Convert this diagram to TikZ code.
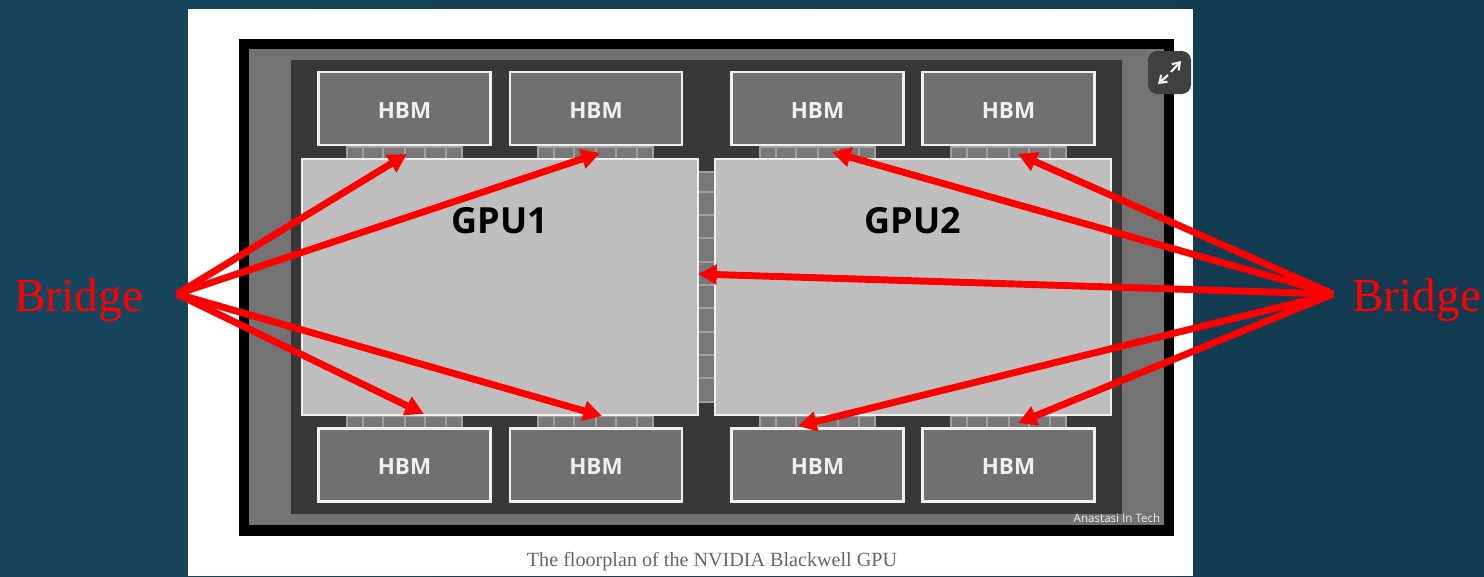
\documentclass[tikz,border=0pt]{standalone}
\usepackage{fontspec}
\setmainfont{Liberation Serif}
\newfontfamily\opensans{Open Sans}
\usetikzlibrary{arrows.meta}
\definecolor{bgL}{HTML}{16465F}
\definecolor{bgR}{HTML}{123A50}
\definecolor{frameK}{HTML}{000000}
\definecolor{pkg}{HTML}{737373}
\definecolor{dark}{HTML}{383838}
\definecolor{hbmfill}{HTML}{707070}
\definecolor{gpufill}{HTML}{BEBEBE}
\definecolor{edgeW}{HTML}{F0F0F0}
\definecolor{cellfill}{HTML}{787878}
\definecolor{cellline}{HTML}{A0A0A0}
\definecolor{icon}{HTML}{404040}
\tikzset{
  x=0.75pt,y=-0.75pt,
  hbmbox/.style={draw=edgeW,line width=2.2pt,fill=hbmfill,text=edgeW,inner sep=0pt,
     font=\opensans\bfseries\fontsize{16.8}{17}\selectfont},
  gpubox/.style={draw=edgeW,line width=2pt,fill=gpufill},
  gputext/.style={font=\opensans\bfseries\fontsize{27}{27}\selectfont,text=black,inner sep=0pt},
  cell/.style={draw=cellline,line width=0.8pt,fill=cellfill},
  ptr/.style={draw=red,line width=5.2pt,-{Triangle[length=14pt,width=14.5pt]}},
  bridgetext/.style={text=red,font=\fontsize{35.5}{36}\selectfont,inner sep=0pt,anchor=base west},
}
\newcommand{\hbm}[4]{%
  \draw[hbmbox] (#2,#3) rectangle (#2+172,#3+73);
  \node[hbmbox,draw=none,fill=none] (#1) at (#2+86,#3+#4) {HBM};
}
\newcommand{\hbridge}[2]{%
  \foreach \a/\b in {0/16,16/36,36/58,58/78,78/99,99/115}{
    \draw[cell] (#1+\a,#2) rectangle (#1+\b,#2+12);
  }
}
\begin{document}
\begin{tikzpicture}
\useasboundingbox (0,0) rectangle (1484,576);
\shade[left color=bgL,right color=bgR,shading angle=90] (0,0) rectangle (1484,576);
\fill[white] (188,9) rectangle (1193,576);
\fill[frameK] (239,39) rectangle (1174,536);
\fill[pkg] (249,49) rectangle (1164,525);
\fill[dark] (291,60) rectangle (1122,514);
% bridges
\hbridge{347}{147}\hbridge{538}{147}\hbridge{760}{147}\hbridge{951}{147}
\hbridge{347}{416}\hbridge{538}{416}\hbridge{760}{416}\hbridge{951}{416}
\foreach \a/\b in {172/192,192/215,215/238,238/262,262/285,285/308,308/332,332/355,355/378,378/402}{
  \draw[cell] (698,\a) rectangle (715,\b);
}
% HBM
\hbm{h1}{318.5}{72}{38}\hbm{h2}{510}{72}{38}\hbm{h3}{731.5}{72}{38}\hbm{h4}{922.5}{72}{38}
\hbm{h5}{318.5}{428.5}{38}\hbm{h6}{510}{428.5}{38}\hbm{h7}{731.5}{428.5}{38}\hbm{h8}{922.5}{428.5}{38}
% GPUs
\draw[gpubox] (302,159) rectangle (698,415);
\draw[gpubox] (715,159) rectangle (1111,415);
\node[gputext] (g1) at (500,221) {GPU1};
\node[gputext] (g2) at (913,221) {GPU2};
% watermark, caption
\node[text=edgeW,font=\opensans\fontsize{8.7}{9}\selectfont,inner sep=0pt] (wm) at (1117,518) {Anastasi In Tech};
\node[text=black!60,font=\fontsize{15.1}{16}\selectfont,inner sep=0pt] (cap) at (712,562) {The floorplan of the NVIDIA Blackwell GPU};
% expand icon
\fill[icon,rounded corners=7pt] (1148,51) rectangle (1191,94);
\draw[edgeW,line width=1.6pt,-{Straight Barb[length=5pt,width=7pt]}] (1171,72) -- (1181,61);
\draw[edgeW,line width=1.6pt,-{Straight Barb[length=5pt,width=7pt]}] (1168,75) -- (1158,84);
% bridge labels
\node[bridgetext] (bl) at (14,311) {Bridge};
\node[bridgetext] (br) at (1352,311) {Bridge};
\coordinate (sl) at (177,294);
\coordinate (sr) at (1333,294);
\coordinate (t1) at (407,154);
\coordinate (t2) at (600,153);
\coordinate (t3) at (424,414);
\coordinate (t4) at (602,416);
\coordinate (t5) at (832,152);
\coordinate (t6) at (1018,154);
\coordinate (t7) at (698,274);
\coordinate (t8) at (798,426);
\coordinate (t9) at (1018,423);
\foreach \t in {t1,t2,t3,t4}{\draw[ptr] (sl) -- (\t);}
\foreach \t in {t5,t6,t7,t8,t9}{\draw[ptr] (sr) -- (\t);}
\end{tikzpicture}
\end{document}
